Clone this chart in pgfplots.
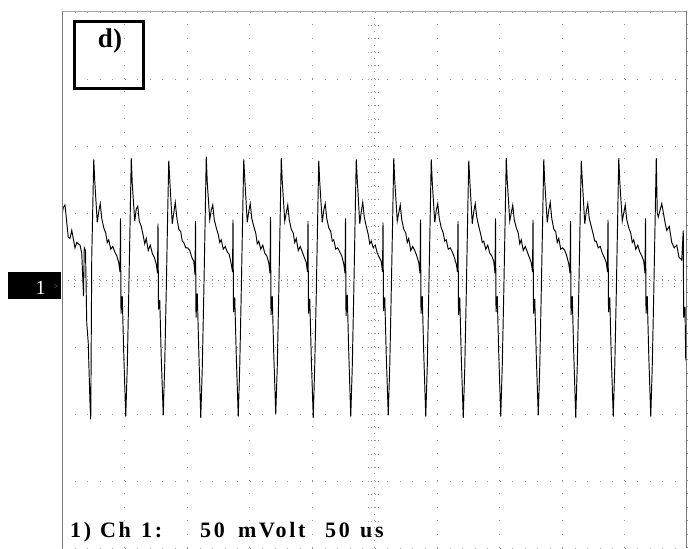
\documentclass[border=0pt]{standalone}
\usepackage{pgfplots}
\pgfplotsset{compat=1.18}
\usepackage{fontspec}
\setmainfont{Liberation Serif}
\newfontfamily\scopefont[LetterSpace=12]{Liberation Serif}
\definecolor{griddot}{RGB}{150,150,150}
\definecolor{frameL}{RGB}{120,120,120}
\definecolor{frameT}{RGB}{170,170,170}
\begin{document}
\begin{tikzpicture}[x=1pt,y=1pt]
\useasboundingbox (0,0) rectangle (692,548);
% main axis with grid and waveform
\begin{axis}[at={(62pt,0pt)}, anchor=south west, scale only axis,
  width=625pt, height=536pt,
  xmin=0, xmax=500, ymin=-200, ymax=200,
  axis line style={draw=none},
  xtick={0,50,...,500}, ytick={-200,-150,...,200},
  xticklabels={}, yticklabels={}, major tick length=0pt,
  grid=major,
  x grid style={griddot, line width=0.9pt, dash pattern=on 0.9pt off 12.5pt},
  y grid style={griddot, line width=0.9pt, dash pattern=on 0.9pt off 11.6pt},
  clip=false]
\addplot[black, line width=0.95pt, mark=none] table {
t v
0.3 50
1.0 54
2.4 56
5.0 32
6.4 31
7.8 37
10.4 24
11.8 28
14.4 26
15.8 20
17.2 -12
17.8 24
18.8 22
19.8 -32
21.0 -47
22.4 -92
23.0 -104
23.8 17
25.4 90
26.2 74
28.2 43
29.4 51
30.6 57
31.8 46
33.4 39
35.0 35
36.2 28
37.4 30
39.0 23
40.6 25
42.2 21
43.8 18
45.4 13
46.4 6
46.8 46
47.2 -25
48.2 -12
49.4 -55
51.0 -102
52.2 -65
53.4 -10
54.6 50
55.4 91
56.2 72
58.2 44
59.4 53
60.6 55
61.8 44
63.4 40
65.0 33
66.2 27
67.4 31
69.0 22
70.6 26
72.2 20
73.8 17
75.4 12
76.4 5
76.8 42
77.2 -22
78.2 -15
79.4 -58
81.0 -101
82.2 -62
83.4 -8
84.6 52
85.4 89
86.2 75
88.2 42
89.4 50
90.6 58
91.8 47
93.4 38
95.0 36
96.2 29
97.4 28
99.0 24
100.6 24
102.2 22
103.8 17
105.4 14
106.4 4
106.8 44
107.2 -28
108.2 -10
109.4 -52
111.0 -103
112.2 -66
113.4 -12
114.6 49
115.4 92
116.2 73
118.2 45
119.4 52
120.6 56
121.8 45
123.4 39
125.0 34
126.2 28
127.4 30
129.0 23
130.6 25
132.2 21
133.8 19
135.4 12
136.4 6
136.8 45
137.2 -24
138.2 -13
139.4 -56
141.0 -102
142.2 -64
143.4 -9
144.6 51
145.4 90
146.2 76
148.2 43
149.4 51
150.6 57
151.8 46
153.4 40
155.0 35
156.2 27
157.4 29
159.0 23
160.6 26
162.2 20
163.8 18
165.4 13
166.4 5
166.8 47
167.2 -26
168.2 -12
169.4 -55
171.0 -100
172.2 -65
173.4 -10
174.6 50
175.4 91
176.2 74
178.2 44
179.4 50
180.6 56
181.8 45
183.4 38
185.0 35
186.2 28
187.4 31
189.0 22
190.6 25
192.2 21
193.8 17
195.4 13
196.4 6
196.8 44
197.2 -25
198.2 -14
199.4 -57
201.0 -103
202.2 -63
203.4 -11
204.6 50
205.4 89
206.2 73
208.2 43
209.4 52
210.6 57
211.8 46
213.4 39
215.0 36
216.2 29
217.4 30
219.0 23
220.6 24
222.2 21
223.8 18
225.4 12
226.4 5
226.8 46
227.2 -27
228.2 -11
229.4 -54
231.0 -102
232.2 -65
233.4 -10
234.6 51
235.4 90
236.2 75
238.2 42
239.4 51
240.6 58
241.8 47
243.4 40
245.0 34
246.2 27
247.4 29
249.0 24
250.6 26
252.2 20
253.8 17
255.4 14
256.4 6
256.8 43
257.2 -23
258.2 -13
259.4 -56
261.0 -101
262.2 -64
263.4 -9
264.6 49
265.4 91
266.2 74
268.2 44
269.4 50
270.6 56
271.8 45
273.4 38
275.0 35
276.2 28
277.4 31
279.0 22
280.6 25
282.2 22
283.8 18
285.4 13
286.4 5
286.8 45
287.2 -25
288.2 -12
289.4 -55
291.0 -102
292.2 -65
293.4 -10
294.6 50
295.4 90
296.2 73
298.2 43
299.4 52
300.6 57
301.8 46
303.4 39
305.0 35
306.2 29
307.4 30
309.0 23
310.6 24
312.2 21
313.8 17
315.4 12
316.4 6
316.8 44
317.2 -26
318.2 -13
319.4 -57
321.0 -103
322.2 -66
323.4 -11
324.6 51
325.4 89
326.2 75
328.2 42
329.4 51
330.6 57
331.8 47
333.4 40
335.0 34
336.2 28
337.4 29
339.0 23
340.6 26
342.2 20
343.8 18
345.4 14
346.4 5
346.8 46
347.2 -24
348.2 -12
349.4 -55
351.0 -102
352.2 -64
353.4 -10
354.6 50
355.4 91
356.2 74
358.2 44
359.4 50
360.6 56
361.8 45
363.4 39
365.0 35
366.2 27
367.4 30
369.0 22
370.6 25
372.2 21
373.8 17
375.4 13
376.4 6
376.8 45
377.2 -25
378.2 -14
379.4 -56
381.0 -101
382.2 -65
383.4 -9
384.6 49
385.4 90
386.2 73
388.2 43
389.4 52
390.6 58
391.8 46
393.4 38
395.0 36
396.2 28
397.4 31
399.0 23
400.6 24
402.2 22
403.8 18
405.4 12
406.4 5
406.8 44
407.2 -26
408.2 -12
409.4 -55
411.0 -103
412.2 -64
413.4 -10
414.6 51
415.4 89
416.2 75
418.2 42
419.4 51
420.6 57
421.8 46
423.4 40
425.0 34
426.2 29
427.4 29
429.0 24
430.6 25
432.2 20
433.8 17
435.4 13
436.4 6
436.8 45
437.2 -24
438.2 -13
439.4 -57
441.0 -102
442.2 -65
443.4 -11
444.6 50
445.4 91
446.2 74
448.2 44
449.4 50
450.6 56
451.8 45
453.4 39
455.0 35
456.2 28
457.4 30
459.0 23
460.6 26
462.2 21
463.8 18
465.4 14
466.4 5
466.8 46
467.2 -25
468.2 -12
469.4 -56
471.0 -102
472.2 -64
473.4 -10
474.6 50
475.4 91
476.2 50
477.0 47
479.8 57
482.4 43
483.8 37
485.8 40
487.8 28
489.8 24
491.8 26
493.6 17
495.8 15
497.0 37
497.3 -28
498.4 -20
499.0 -60
};
\end{axis}
% centre graticule lines with their ticks
\begin{axis}[at={(62pt,0pt)}, anchor=south west, scale only axis,
  width=625pt, height=536pt,
  xmin=-250, xmax=250, ymin=-200, ymax=200,
  axis lines=center,
  every inner x axis line/.append style={-},
  every inner y axis line/.append style={-},
  x axis line style={griddot, line width=0.9pt, dash pattern=on 0.9pt off 5.35pt},
  y axis line style={griddot, line width=0.9pt, dash pattern=on 0.9pt off 5.8pt},
  xtick={-240,-230,...,240}, ytick={-190,-180,...,190},
  xticklabels={}, yticklabels={},
  tick align=center, major tick length=14pt,
  tick style={griddot, line width=0.9pt, dash pattern=on 0.9pt off 2.6pt}]
\end{axis}
% frame
\draw[frameL, line width=1.6pt] (62.5,0) -- (62.5,536.5);
\draw[frameT, line width=1.8pt] (62,536.5) -- (687,536.5);
\draw[frameL, line width=1.4pt] (686.5,536.5) -- (686.5,0);
% label box
\draw[black, line width=3pt] (74.5,459.5) rectangle (143.5,526.5);
\node[anchor=base, font=\fontsize{27}{27}\selectfont\bfseries, inner sep=0pt] at (110,500) {d)};
% channel marker
\fill[black] (8,249) rectangle (61,276);
\node[anchor=base, text=white, font=\fontsize{20}{20}\selectfont, inner sep=0pt] at (40.5,253) {1};
\node[anchor=base, text=gray, font=\fontsize{9}{9}\selectfont, inner sep=0pt] at (56,258) {>};
% status line
\begin{scope}[every node/.style={anchor=base west, inner sep=0pt, font=\fontsize{22}{22}\selectfont\scopefont\bfseries}]
\node at (70,11) {1)};
\node at (100,11) {Ch};
\node at (141,11) {1:};
\node at (200,11) {50};
\node at (238,11) {mVolt};
\node at (325,11) {50};
\node at (360,11) {us};
\end{scope}
\end{tikzpicture}
\end{document}
